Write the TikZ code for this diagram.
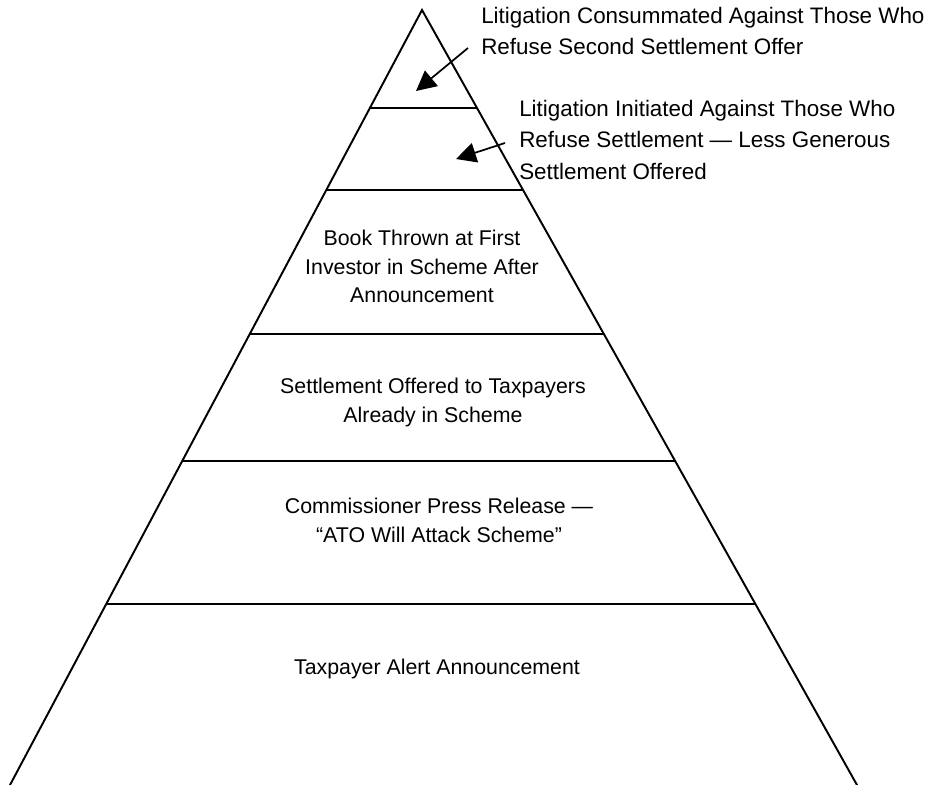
\documentclass[tikz,border=0pt]{standalone}
\usepackage{fontspec}
\setmainfont{Liberation Sans}
\usetikzlibrary{calc,arrows.meta}
\begin{document}
\begin{tikzpicture}[x=0.75pt,y=-0.75pt,
  edge/.style={line width=1.45pt,line cap=round},
  tier/.style={line width=1.5pt},
  pointer/.style={line width=1.3pt,-{Triangle[length=15pt,width=15pt]}},
  tiertext/.style={anchor=north,inner sep=0pt,align=center,
    font=\fontsize{16}{21.4}\selectfont},
  sidetext/.style={anchor=north west,inner sep=0pt,align=left,
    font=\fontsize{16.8}{23.6}\selectfont}]
  \useasboundingbox (0,0) rectangle (932,785);

  % apex and foot of the two sloping sides
  \coordinate (A) at (422,10);
  \coordinate (BL) at (10,785);
  \coordinate (BR) at (857,785);
  \draw[edge] (BL) -- (A) -- (BR);

  % horizontal dividers between the tiers
  \foreach \name/\yy in {t1/108,t2/190,t3/334,t4/461,t5/604}{
    \coordinate (\name L) at ($(A)!{(\yy-10)/775}!(BL)$);
    \coordinate (\name R) at ($(A)!{(\yy-10)/775}!(BR)$);
    \draw[tier] (\name L) -- (\name R);
  }

  % tier captions
  \node[tiertext] (book) at (422,230) {Book Thrown at First\\Investor in Scheme After\\Announcement};
  \node[tiertext] (offer) at (433,378) {Settlement Offered to Taxpayers\\Already in Scheme};
  \node[tiertext] (press) at (439,498) {Commissioner Press Release —\\“ATO Will Attack Scheme”};
  \node[tiertext] (alert) at (437,659) {Taxpayer Alert Announcement};

  % callouts for the two top tiers
  \node[sidetext] (consum) at (481,7) {Litigation Consummated Against Those Who\\Refuse Second Settlement Offer};
  \node[sidetext] (init) at (519,100) {Litigation Initiated Against Those Who\\Refuse Settlement — Less Generous\\Settlement Offered};

  \coordinate (c1tail) at (468,48);
  \coordinate (c1tip) at (416,91);
  \coordinate (c2tail) at (505,143);
  \coordinate (c2tip) at (456,159);
  \draw[pointer] (c1tail) -- (c1tip);
  \draw[pointer] (c2tail) -- (c2tip);
\end{tikzpicture}
\end{document}
